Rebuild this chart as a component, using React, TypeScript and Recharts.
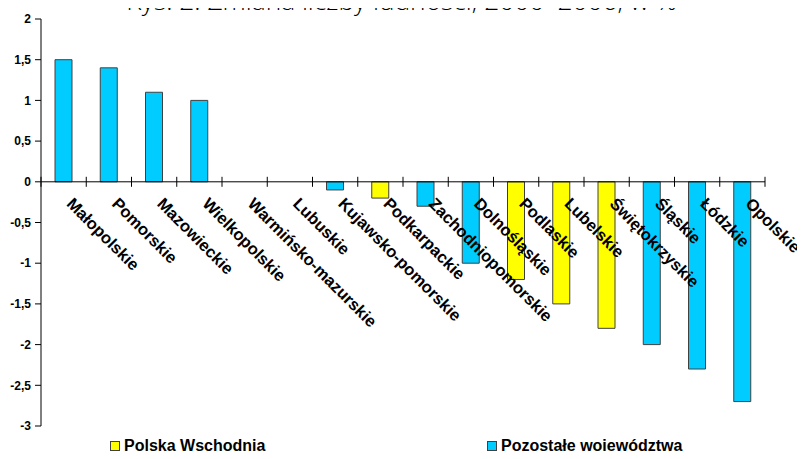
import { Bar, BarChart, ReferenceDot, ReferenceLine, XAxis, YAxis } from "recharts";

const regions = [
  "Małopolskie",
  "Pomorskie",
  "Mazowieckie",
  "Wielkopolskie",
  "Warmińsko-mazurskie",
  "Lubuskie",
  "Kujawsko-pomorskie",
  "Podkarpackie",
  "Zachodniopomorskie",
  "Dolnośląskie",
  "Podlaskie",
  "Lubelskie",
  "Świętokrzyskie",
  "Śląskie",
  "Łódzkie",
  "Opolskie",
];

const wschodnia = [null, null, null, null, 0, null, null, -0.2, null, null, -1.2, -1.5, -1.8, null, null, null];
const pozostale = [1.5, 1.4, 1.1, 1.0, null, 0, -0.1, null, -0.3, -1.0, null, null, null, -2.0, -2.3, -2.7];

const yTicks = [-3, -2.5, -2, -1.5, -1, -0.5, 0, 0.5, 1, 1.5, 2];

const data = regions.map((name, i) => ({
  name,
  wschodnia: wschodnia[i],
  pozostale: pozostale[i],
}));

const W = 805;
const H = 459;
const margin = { top: 19, right: 40, bottom: 33, left: 0 };
const yAxisW = 41;
const step = (W - margin.left - margin.right - yAxisW) / regions.length;

const BLUE = "#00CCFF";
const YELLOW = "#FFFF00";
const EDGE = "#404040";
const FONT = "Liberation Sans, Arial, sans-serif";

function CategoryMark(props: any) {
  const { cx, cy, idx } = props;
  const last = idx === regions.length - 1;
  const tx = cx + 2;
  const ty = cy + 23;
  return (
    <g>
      <line x1={cx - step / 2} x2={cx - step / 2} y1={cy - 5} y2={cy + 5} stroke="#000" />
      {last && <line x1={cx + step / 2} x2={cx + step / 2} y1={cy - 5} y2={cy + 5} stroke="#000" />}
      <text
        x={tx}
        y={ty}
        transform={`rotate(45 ${tx} ${ty})`}
        fontFamily={FONT}
        fontWeight="bold"
        fontSize={16.5}
        fill="#000"
      >
        {regions[idx]}
      </text>
    </g>
  );
}

export default function App() {
  return (
    <div style={{ position: "relative", width: W, height: H, margin: -8, background: "#fff", overflow: "hidden" }}>
      <svg width={W} height={30} style={{ position: "absolute", left: 0, top: 0 }}>
        <text
          x={677}
          y={10}
          textAnchor="end"
          fontFamily="Open Sans, sans-serif"
          fontWeight={300}
          fontSize={26.3}
          fill="#000"
        >
          Rys. 2. Zmiana liczby ludności, 2000–2006, w %
        </text>
      </svg>
      <div style={{ position: "absolute", left: 0, top: 0 }}>
        <BarChart width={W} height={H} data={data} margin={margin} barSize={17}>
          <XAxis dataKey="name" hide />
          <YAxis
            width={yAxisW}
            domain={[-3, 2]}
            ticks={yTicks}
            interval={0}
            tickSize={6}
            tickMargin={4}
            stroke="#000"
            tickFormatter={(v: number) => String(v).replace(".", ",")}
            tick={{ fill: "#000", fontSize: 12, fontWeight: "bold", fontFamily: FONT }}
          />
          <Bar dataKey="wschodnia" stackId="a" fill={YELLOW} stroke={EDGE} strokeWidth={1} isAnimationActive={false} />
          <Bar dataKey="pozostale" stackId="a" fill={BLUE} stroke={EDGE} strokeWidth={1} isAnimationActive={false} />
          <ReferenceLine y={0} stroke="#000" />
          {regions.map((r, i) => (
            <ReferenceDot
              key={r}
              x={r}
              y={0}
              r={0}
              shape={(p: any) => <CategoryMark {...p} idx={i} />}
            />
          ))}
        </BarChart>
      </div>
      {[
        { label: "Polska Wschodnia", color: YELLOW, x: 110 },
        { label: "Pozostałe województwa", color: BLUE, x: 487 },
      ].map((item) => (
        <div
          key={item.label}
          style={{
            position: "absolute",
            left: item.x,
            top: 436,
            display: "flex",
            alignItems: "center",
            fontFamily: FONT,
            fontWeight: "bold",
            fontSize: 16,
            color: "#000",
            lineHeight: "19px",
          }}
        >
          <span
            style={{
              display: "inline-block",
              width: 8,
              height: 8,
              background: item.color,
              border: `1px solid ${EDGE}`,
              marginRight: 4,
            }}
          />
          {item.label}
        </div>
      ))}
    </div>
  );
}
